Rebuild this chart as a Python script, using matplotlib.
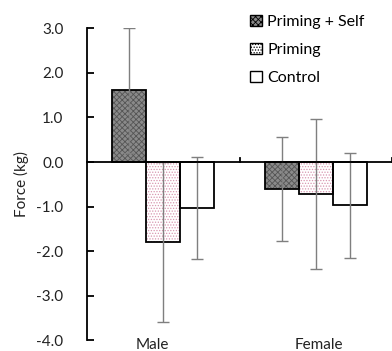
import matplotlib
matplotlib.use("Agg")
import matplotlib.pyplot as plt
import numpy as np
from matplotlib.patches import Patch

plt.rcParams['font.family'] = ['Lato', 'DejaVu Sans']
plt.rcParams['hatch.linewidth'] = 0.6

categories = ["Male", "Female"]
series = ["Priming + Self", "Priming", "Control"]
means = {
    "Priming + Self": [1.61, -0.60],
    "Priming": [-1.80, -0.72],
    "Control": [-1.03, -0.97],
}
errors = {
    "Priming + Self": [1.40, 1.17],
    "Priming": [1.80, 1.69],
    "Control": [1.15, 1.18],
}
yticks = [3.0, 2.0, 1.0, 0.0, -1.0, -2.0, -3.0, -4.0]

styles = {
    "Priming + Self": dict(face="#8a8a8a", hatch="xxxxxx", hc="#555555"),
    "Priming": dict(face="white", hatch="......", hc="#d896b0"),
    "Control": dict(face="white", hatch=None, hc="black"),
}

fig = plt.figure(figsize=(3.92, 3.51), dpi=100)
ax = fig.add_axes([0.222, 0.031, 0.778, 0.888])

x = np.arange(len(categories))
w = 0.222
offsets = [-w, 0, w]
for s, off in zip(series, offsets):
    st = styles[s]
    xs = x + off
    if st["hatch"]:
        ax.bar(xs, means[s], w, color=st["face"], edgecolor=st["hc"], hatch=st["hatch"],
               linewidth=0, zorder=2)
    else:
        ax.bar(xs, means[s], w, color=st["face"], linewidth=0, zorder=2)
    ax.bar(xs, means[s], w, fill=False, edgecolor="black", linewidth=1.3, zorder=3)
    ax.errorbar(xs, means[s], yerr=errors[s], fmt="none", ecolor="#7f7f7f",
                elinewidth=1, capsize=4, capthick=1, zorder=4)

ax.set_xlim(-0.5, 1.5)
ax.set_ylim(-4.0, 3.0)
ax.set_yticks(yticks)
ax.set_yticklabels([f"{t:.1f}" for t in yticks])
ax.tick_params(axis='y', direction='in', length=5, width=1.3, pad=17, labelsize=11,
               labelcolor='#222222', color='black')
for sp in ['top', 'right', 'bottom']:
    ax.spines[sp].set_visible(False)
ax.spines['left'].set_linewidth(1.3)
ax.set_xticks([])
ax.axhline(0, color='black', linewidth=1.3, zorder=5, clip_on=False)
for xb in [0.5, 1.5]:
    ax.plot([xb, xb], [0, 0.09], color='black', linewidth=1.3, zorder=5, clip_on=False)

ax.set_ylabel("Force (kg)", fontsize=11, color='#222222', labelpad=5)

label_x = [-0.075, 0.02]
for xi, lx, c in zip(x, label_x, categories):
    ax.text(xi + lx, -4.2, c, ha='center', va='baseline', fontsize=11, color='#222222',
            clip_on=False)

handles = []
for s in series:
    st = styles[s]
    handles.append(Patch(facecolor=st["face"], edgecolor="black", linewidth=1.0,
                         hatch=st["hatch"], label=s))
leg = ax.legend(handles=handles, loc='upper left', bbox_to_anchor=(0.515, 1.065),
                frameon=False, fontsize=11.5, handlelength=0.75, handleheight=0.75,
                handletextpad=0.3, labelspacing=0.85, borderaxespad=0)

fig.savefig("out.png", dpi=100)
